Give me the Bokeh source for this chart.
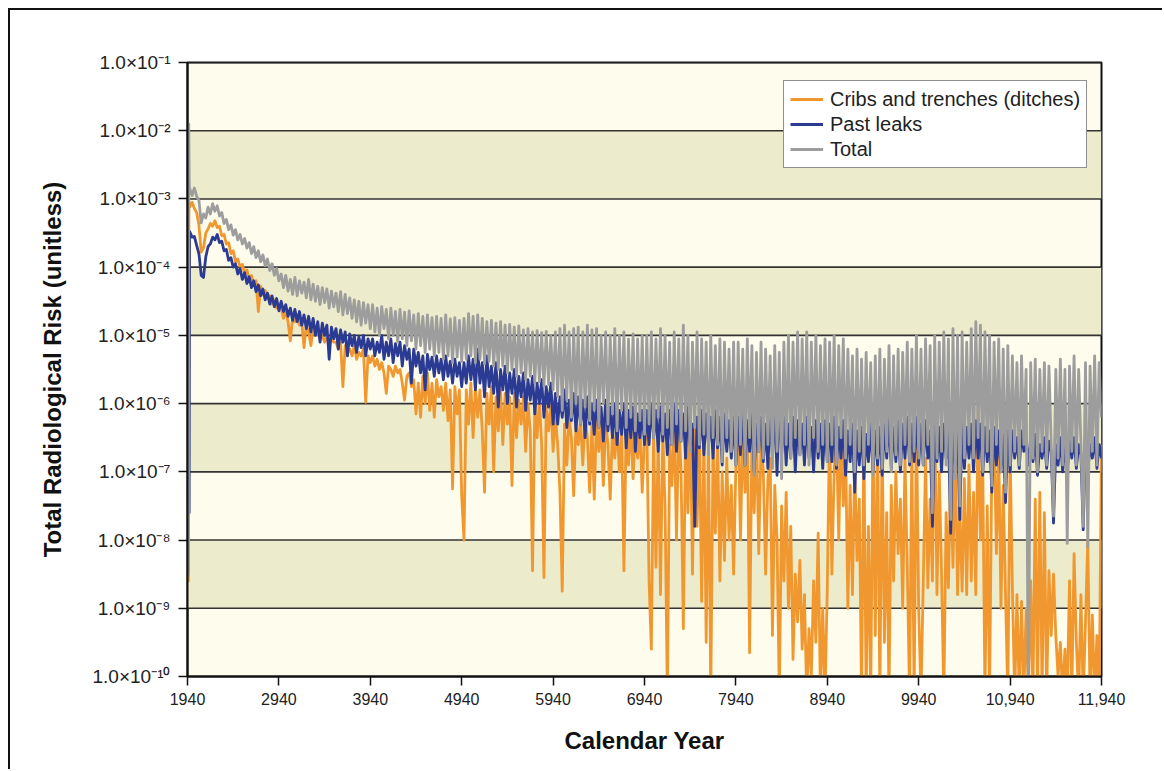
from bokeh.plotting import figure
from bokeh.models import (FixedTicker, CustomJSTickFormatter, Legend, LegendItem, Range1d)
from bokeh.embed import file_html
from bokeh.resources import INLINE

# Simulation years: a few early years, then a 25-year step to the end of the period
early_years = [1940, 1946, 1950, 1954, 1958, 1962]
years = early_years + list(range(1965, 11941, 25))

# log10 of radiological risk, cribs and trenches (ditches)
log_cribs = (
    [-8.6, -8.6, -8.6, -3.1, -3.05, -3.1]
    + [-3.12, -3.05, -3.14, -3.2, -3.38, -3.78, -3.72, -3.5, -3.44, -3.36, -3.4, -3.32, -3.42, -3.4, -3.54, -3.52, -3.66, -3.64, -3.8, -3.76,
       -3.92, -3.88, -4.0, -3.96, -4.1, -4.04, -4.18, -4.12, -4.26, -4.2, -4.65, -4.28, -4.4, -4.34, -4.46, -4.42, -4.54, -4.48, -4.6, -4.55]
    + [-4.6, -4.75, -4.65, -4.8, -5.08, -4.75, -4.8, -4.7, -4.85, -4.8, -5.18, -4.85, -4.95, -5.15, -4.9, -5.0, -4.95, -5.05, -5.0, -5.1,
       -5.0, -5.15, -5.05, -5.1, -5.1, -5.2, -5.1, -5.75, -5.15, -5.25, -5.2, -5.3, -5.15, -5.35, -5.25, -5.3, -5.2, -5.98, -5.3, -5.4]
    + [-5.3, -5.45, -5.35, -5.5, -5.4, -5.55, -5.85, -5.45, -5.5, -5.6, -5.45, -5.55, -5.5, -5.7, -5.95, -5.6, -5.55, -5.75, -5.65, -6.15,
       -5.7, -6.2, -5.6, -6.0, -5.55, -6.1, -5.7, -6.2, -5.65, -5.9, -5.75, -6.1, -5.7, -6.25, -5.8, -7.25, -5.75, -6.15, -5.8, -7.35]
    + [-8.0, -5.8, -6.3, -5.7, -6.5, -5.75, -6.2, -5.8, -6.4, -7.3, -5.85, -6.3, -5.75, -7.0, -5.9, -6.4, -5.8, -6.6, -5.85, -6.3,
       -5.9, -7.2, -5.85, -6.5, -5.95, -6.3, -5.9, -6.7, -6.0, -6.4, -8.45, -6.0, -6.5, -5.95, -6.6, -8.55, -6.05, -6.4, -6.0, -6.7]
    + [-6.2, -6.6, -7.3, -8.75, -6.3, -6.9, -6.2, -6.5, -7.35, -6.3, -6.6, -6.25, -6.9, -6.2, -6.5, -7.3, -6.3, -7.4, -6.2, -6.7,
       -6.3, -7.2, -6.25, -6.6, -7.4, -6.35, -6.8, -6.3, -7.0, -6.4, -8.45, -6.3, -6.9, -6.25, -7.1, -6.4, -6.8, -6.3, -7.3, -6.5]
    + [-6.3, -8.6, -9.6, -6.4, -8.4, -6.5, -8.8, -6.4, -7.5, -10.3, -6.6, -7.2, -6.2, -8.0, -6.3, -7.0, -9.3, -6.4, -7.6, -6.1,
       -8.5, -6.2, -7.8, -6.3, -8.9, -6.5, -9.5, -6.4, -10.3, -6.6, -7.9, -6.5, -8.6, -7.0, -8.3, -6.8, -8.0, -7.2, -8.5, -6.9]
    + [-6.2, -8.0, -6.4, -7.3, -6.3, -9.65, -6.5, -7.6, -6.4, -8.2, -6.6, -7.0, -8.5, -7.1, -6.8, -9.4, -7.2, -8.0, -10.3, -7.5,
       -8.6, -7.3, -9.0, -7.8, -9.75, -8.5, -9.2, -8.3, -9.6, -8.8, -10.3, -9.3, -10.0, -8.6, -9.5, -7.9, -10.3, -9.0, -10.3, -8.7]
    + [-6.3, -8.5, -7.0, -6.4, -8.0, -6.3, -7.5, -6.6, -9.0, -7.2, -8.8, -6.9, -8.3, -7.4, -10.3, -6.5, -10.3, -7.8, -10.3, -6.4,
       -9.4, -6.3, -10.3, -6.5, -9.5, -7.6, -10.3, -7.2, -8.6, -7.0, -8.2, -7.4, -9.0, -6.8, -8.4, -10.3, -6.6, -10.3, -6.2, -9.0]
    + [-10.3, -8.6, -6.8, -8.7, -7.4, -8.6, -6.1, -8.8, -7.0, -8.5, -10.3, -7.6, -8.7, -7.0, -8.4, -6.55, -8.8, -7.5, -8.75, -7.1,
       -8.8, -6.9, -8.6, -7.3, -8.8, -6.1, -8.0, -6.8, -10.3, -7.5, -10.3, -6.9, -6.4, -8.2, -6.6, -9.0, -7.2, -8.8, -10.3, -6.7]
    + [-8.7, -10.3, -8.8, -10.3, -8.9, -10.3, -9.0, -10.3, -8.6, -10.3, -7.4, -10.3, -7.3, -10.3, -7.6, -10.3, -8.45, -9.4, -8.5, -9.4,
       -10.0, -9.5, -10.3, -9.6, -10.3, -8.6, -10.3, -8.2, -9.5, -10.3, -8.8, -10.3, -9.2, -8.0, -10.3, -9.1, -10.3, -9.4, -10.3, -6.6]
)

# log10 of radiological risk, past leaks
log_leaks = (
    [-7.6, -7.6, -7.6, -7.6, -7.6, -3.5]
    + [-3.48, -3.56, -3.55, -3.68, -3.8, -4.12, -4.15, -3.85, -3.7, -3.66, -3.56, -3.6, -3.52, -3.64, -3.62, -3.76, -3.74, -3.9, -3.86, -4.0,
       -3.95, -4.1, -4.02, -4.18, -4.08, -4.24, -4.14, -4.3, -4.2, -4.36, -4.26, -4.42, -4.32, -4.48, -4.38, -4.54, -4.42, -4.58, -4.46, -4.64]
    + [-4.5, -4.65, -4.55, -4.72, -4.6, -4.78, -4.62, -4.8, -4.65, -4.85, -4.7, -4.9, -4.72, -4.95, -4.75, -5.0, -4.8, -5.1, -4.82, -5.0,
       -4.85, -5.35, -4.88, -5.05, -4.9, -5.2, -4.92, -5.1, -4.95, -5.3, -4.98, -5.15, -5.0, -5.25, -5.02, -5.18, -5.0, -5.3, -5.05, -5.2]
    + [-5.05, -5.3, -5.1, -5.25, -5.0, -5.35, -5.1, -5.3, -5.05, -5.4, -5.12, -5.3, -5.1, -5.45, -5.15, -5.35, -5.2, -5.7, -5.2, -5.45,
       -5.25, -5.55, -5.3, -5.8, -5.28, -5.5, -5.32, -5.6, -5.3, -5.55, -5.35, -5.65, -5.3, -5.6, -5.38, -5.7, -5.35, -5.6, -5.4, -5.75]
    + [-5.4, -5.7, -5.3, -5.65, -5.35, -5.8, -5.2, -5.7, -5.4, -5.9, -5.3, -5.75, -5.45, -5.85, -5.4, -6.05, -5.5, -5.8, -5.45, -6.0,
       -5.55, -5.85, -5.5, -6.05, -5.6, -5.9, -5.55, -6.1, -5.65, -5.95, -5.6, -6.15, -5.7, -6.0, -5.65, -6.2, -5.75, -6.05, -5.7, -6.3]
    + [-5.85, -6.3, -5.9, -6.2, -5.8, -6.35, -5.95, -6.25, -5.85, -6.4, -5.9, -6.3, -5.95, -6.5, -5.9, -6.3, -6.0, -6.45, -5.95, -6.35,
       -6.05, -6.55, -5.95, -6.4, -6.05, -6.5, -6.0, -6.6, -6.1, -6.45, -6.0, -6.65, -6.1, -6.5, -6.05, -6.7, -6.15, -6.5, -6.1, -6.6]
    + [-6.1, -6.6, -6.0, -6.5, -6.1, -6.7, -6.05, -6.55, -6.15, -6.75, -6.1, -6.6, -6.0, -6.7, -6.1, -6.55, -6.15, -6.8, -6.05, -6.6,
       -6.3, -7.8, -6.2, -6.65, -6.1, -6.75, -6.15, -6.6, -6.2, -6.8, -6.1, -6.65, -6.2, -6.9, -6.15, -6.7, -6.25, -6.8, -6.2, -6.9]
    + [-6.2, -6.75, -6.1, -6.9, -6.25, -6.7, -6.15, -7.0, -6.3, -6.7, -6.2, -6.85, -6.3, -6.95, -6.1, -6.8, -6.0, -7.05, -5.95, -6.75,
       -6.2, -6.9, -6.3, -6.8, -6.2, -7.0, -6.25, -6.75, -6.3, -6.9, -6.2, -6.8, -6.35, -7.0, -6.25, -6.8, -6.3, -6.95, -6.25, -6.85]
    + [-6.3, -6.85, -6.2, -6.95, -6.35, -6.8, -6.25, -7.05, -6.4, -6.85, -6.3, -7.3, -6.4, -6.9, -6.35, -7.1, -6.45, -6.85, -6.3, -7.0,
       -6.4, -6.9, -6.35, -7.05, -6.3, -6.8, -6.2, -6.95, -6.35, -6.85, -6.25, -7.0, -6.3, -6.8, -6.2, -6.9, -6.3, -6.85, -6.2, -6.9]
    + [-6.3, -6.9, -6.25, -6.8, -6.4, -7.8, -6.3, -6.85, -6.35, -7.0, -6.3, -6.8, -6.4, -7.9, -6.3, -6.9, -6.4, -7.7, -6.3, -6.95,
       -6.35, -6.8, -6.3, -7.0, -6.25, -6.8, -6.3, -7.05, -6.35, -6.85, -6.4, -7.3, -6.35, -6.9, -6.4, -7.0, -6.45, -7.45, -6.4, -7.0]
    + [-6.4, -6.8, -6.5, -6.95, -6.4, -6.7, -6.55, -6.9, -6.5, -6.85, -6.45, -7.05, -6.6, -6.8, -6.5, -6.95, -6.55, -6.7, -7.75, -6.6,
       -6.9, -6.5, -7.0, -6.6, -7.0, -6.55, -6.8, -6.5, -6.95, -6.6, -6.75, -7.85, -6.55, -7.0, -6.6, -6.8, -6.5, -6.95, -6.6, -6.8]
)

# log10 of total radiological risk
log_total = (
    [-8.5, -8.5, -8.5, -1.9, -2.7, -2.9]
    + [-2.85, -2.95, -2.84, -2.96, -3.02, -3.35, -3.22, -3.28, -3.12, -3.22, -3.07, -3.18, -3.1, -3.25, -3.2, -3.36, -3.3, -3.45, -3.38, -3.53,
       -3.45, -3.6, -3.52, -3.66, -3.58, -3.72, -3.64, -3.8, -3.7, -3.86, -3.76, -3.92, -3.82, -3.98, -3.88, -4.05, -3.95, -4.12, -4.02, -4.2]
    + [-4.1, -4.3, -4.12, -4.35, -4.18, -4.4, -4.15, -4.42, -4.2, -4.38, -4.22, -4.45, -4.18, -4.48, -4.25, -4.5, -4.28, -4.55, -4.3, -4.52,
       -4.32, -4.6, -4.35, -4.58, -4.38, -4.65, -4.36, -4.7, -4.4, -4.68, -4.45, -4.75, -4.48, -4.8, -4.5, -4.85, -4.52, -4.82, -4.55, -4.9]
    + [-4.55, -4.95, -4.6, -5.0, -4.58, -4.9, -4.62, -5.05, -4.6, -5.0, -4.65, -5.1, -4.62, -5.05, -4.66, -5.15, -4.64, -5.08, -4.7, -5.2,
       -4.68, -5.15, -4.72, -5.25, -4.7, -5.2, -4.74, -5.3, -4.72, -5.25, -4.75, -5.35, -4.7, -5.3, -4.76, -5.4, -4.74, -5.32, -4.78, -5.38]
    + [-4.75, -5.35, -4.68, -5.3, -4.72, -5.4, -4.7, -5.35, -4.75, -5.42, -4.8, -5.38, -4.78, -5.45, -4.82, -5.5, -4.8, -5.45, -4.85, -5.55,
       -4.84, -5.5, -4.88, -5.6, -4.86, -5.55, -4.92, -5.65, -4.9, -5.6, -4.95, -5.7, -4.93, -5.68, -4.96, -5.75, -4.94, -5.72, -5.0, -5.8]
    + [-4.95, -5.9, -4.9, -6.1, -4.85, -5.95, -4.95, -6.2, -4.9, -6.0, -4.88, -6.3, -4.95, -6.05, -4.85, -6.25, -4.92, -6.1, -4.9, -6.35,
       -5.0, -6.0, -4.95, -6.3, -5.0, -6.15, -4.9, -6.4, -5.0, -6.1, -4.95, -6.35, -5.05, -6.2, -4.98, -6.4, -5.05, -6.25, -5.0, -6.45]
    + [-5.0, -6.3, -4.95, -6.5, -5.05, -6.2, -4.9, -6.45, -5.0, -6.35, -5.1, -6.6, -4.95, -6.3, -5.05, -6.55, -4.85, -6.4, -5.0, -6.7,
       -5.1, -6.35, -4.95, -6.6, -5.05, -6.45, -5.1, -6.75, -5.0, -6.5, -5.15, -6.6, -5.05, -6.85, -5.1, -6.5, -5.2, -6.7, -5.1, -6.9]
    + [-5.1, -6.6, -5.2, -6.9, -5.05, -6.5, -5.15, -7.05, -5.25, -6.7, -5.1, -6.8, -5.2, -6.6, -5.3, -6.95, -5.15, -6.7, -5.25, -7.1,
       -5.1, -6.6, -5.0, -6.8, -5.1, -6.5, -4.95, -6.75, -5.05, -6.6, -4.95, -6.9, -5.1, -6.5, -5.0, -6.7, -5.15, -6.6, -5.05, -6.85]
    + [-5.1, -6.6, -5.0, -6.9, -5.15, -6.5, -5.05, -6.8, -5.2, -6.6, -5.3, -7.0, -5.2, -6.7, -5.35, -6.9, -5.25, -6.6, -5.4, -7.05,
       -5.3, -6.8, -5.2, -6.95, -5.35, -6.7, -5.15, -7.0, -5.3, -6.75, -5.2, -6.9, -5.25, -6.6, -5.1, -6.85, -5.2, -6.7, -5.0, -6.8]
    + [-5.2, -6.9, -5.05, -6.6, -5.15, -7.6, -5.0, -6.8, -5.1, -6.7, -4.95, -6.9, -5.05, -7.7, -4.9, -7.1, -5.0, -7.5, -4.95, -6.8,
       -5.1, -6.6, -4.9, -6.8, -4.8, -6.5, -4.85, -7.0, -4.95, -6.7, -5.0, -7.2, -5.1, -6.6, -5.05, -7.0, -5.2, -7.3, -5.15, -6.9]
    + [-5.3, -6.7, -5.4, -6.9, -5.3, -6.6, -5.5, -10.3, -5.4, -6.8, -5.35, -7.0, -5.5, -6.7, -5.4, -6.9, -5.45, -6.6, -7.65, -5.5,
       -6.8, -5.35, -6.9, -5.5, -8.05, -5.45, -6.7, -5.3, -6.9, -5.5, -6.6, -7.8, -5.4, -8.1, -5.45, -6.7, -5.3, -6.9, -5.4, -6.2]
)

for name, series in (("cribs", log_cribs), ("leaks", log_leaks), ("total", log_total)):
    if len(series) != len(years):
        raise ValueError(f"{name}: {len(series)} values for {len(years)} years")

x_ticks = list(range(1940, 11941, 1000))
decades = list(range(-10, 0))          # tick exponents, 1e-10 .. 1e-1
shaded_decades = [-9, -7, -5, -3]      # lower edge of each tinted band

ORANGE = "#f0982f"
BLUE = "#2b3a92"
GREY = "#9d9d9d"
CREAM = "#fefcec"
TINT = "#ecebcb"
FONT = "Liberation Sans"
LINE_W = 2.8

p = figure(width=1154, height=761, margin=(8, 0, 0, 8),
           y_axis_type="log",
           x_range=Range1d(1940, 11940), y_range=Range1d(1e-10, 1e-1),
           output_backend="svg", toolbar_location=None,
           min_border_left=177, min_border_right=63,
           min_border_top=52, min_border_bottom=95,
           background_fill_color=CREAM, border_fill_color="white",
           outline_line_color="#111111", outline_line_width=2)
p.styles = {"border-left": "2px solid #111111", "border-top": "2px solid #111111"}

# alternating tinted bands and horizontal grid lines, beneath the data
p.quad(left=x_ticks[0], right=x_ticks[-1],
       bottom=[10.0 ** d for d in shaded_decades],
       top=[10.0 ** (d + 1) for d in shaded_decades],
       fill_color=TINT, line_color=None)
grid_levels = [10.0 ** d for d in decades[1:]]
p.segment(x0=x_ticks[0], x1=x_ticks[-1], y0=grid_levels, y1=grid_levels,
          line_color="#333333", line_width=1.6)

ys_cribs = [10.0 ** v for v in log_cribs]
ys_leaks = [10.0 ** v for v in log_leaks]
ys_total = [10.0 ** v for v in log_total]

r_cribs = p.line(years, ys_cribs, line_color=ORANGE, line_width=LINE_W, line_join="round")
r_leaks = p.line(years, ys_leaks, line_color=BLUE, line_width=LINE_W, line_join="round")
r_total = p.line(years, ys_total, line_color=GREY, line_width=LINE_W, line_join="round")

p.xgrid.grid_line_color = None
p.ygrid.grid_line_color = None

p.xaxis.ticker = FixedTicker(ticks=x_ticks)
p.xaxis.formatter = CustomJSTickFormatter(
    code="return tick >= 10000 ? tick.toLocaleString('en-US') : String(tick);")
p.yaxis.ticker = FixedTicker(ticks=[10.0 ** d for d in decades])
p.yaxis.formatter = CustomJSTickFormatter(code="""
const sup = {'-': '\u207b', '0': '\u2070', '1': '\u00b9', '2': '\u00b2', '3': '\u00b3',
             '4': '\u2074', '5': '\u2075', '6': '\u2076', '7': '\u2077', '8': '\u2078', '9': '\u2079'};
const e = Math.round(Math.log10(tick));
return '1.0\u00d710' + String(e).split('').map(c => sup[c]).join('');
""")

for ax in (p.xaxis[0], p.yaxis[0]):
    ax.axis_line_color = "#111111"
    ax.axis_line_width = 2
    ax.major_tick_line_color = "#111111"
    ax.major_tick_line_width = 1.5
    ax.major_tick_in = 0
    ax.major_tick_out = 9
    ax.minor_tick_line_color = None
    ax.major_label_text_font = FONT
    ax.major_label_text_color = "#222222"
    ax.axis_label_text_font = FONT
    ax.axis_label_text_font_style = "bold"
    ax.axis_label_text_color = "#111111"
    ax.axis_label_text_font_size = "24px"

p.xaxis.major_label_text_font_size = "16px"
p.xaxis.major_label_standoff = 7
p.xaxis.axis_label = "Calendar Year"
p.xaxis.axis_label_standoff = 19

p.yaxis.major_label_text_font_size = "19px"
p.yaxis.major_label_standoff = 8
p.yaxis.axis_label = "Total Radiological Risk (unitless)"
p.yaxis.axis_label_standoff = 24

legend = Legend(items=[
    LegendItem(label="Cribs and trenches (ditches)", renderers=[r_cribs]),
    LegendItem(label="Past leaks", renderers=[r_leaks]),
    LegendItem(label="Total", renderers=[r_total]),
], location=(596, 508), margin=0, padding=6, spacing=1,
    glyph_width=33, glyph_height=24, label_height=24, label_standoff=7,
    label_text_font=FONT, label_text_font_size="20px", label_text_color="#222222",
    border_line_color="#222222", border_line_width=1.5,
    background_fill_color="white", background_fill_alpha=1.0)
p.add_layout(legend, "center")

open("out.html", "w").write(file_html(p, INLINE))
